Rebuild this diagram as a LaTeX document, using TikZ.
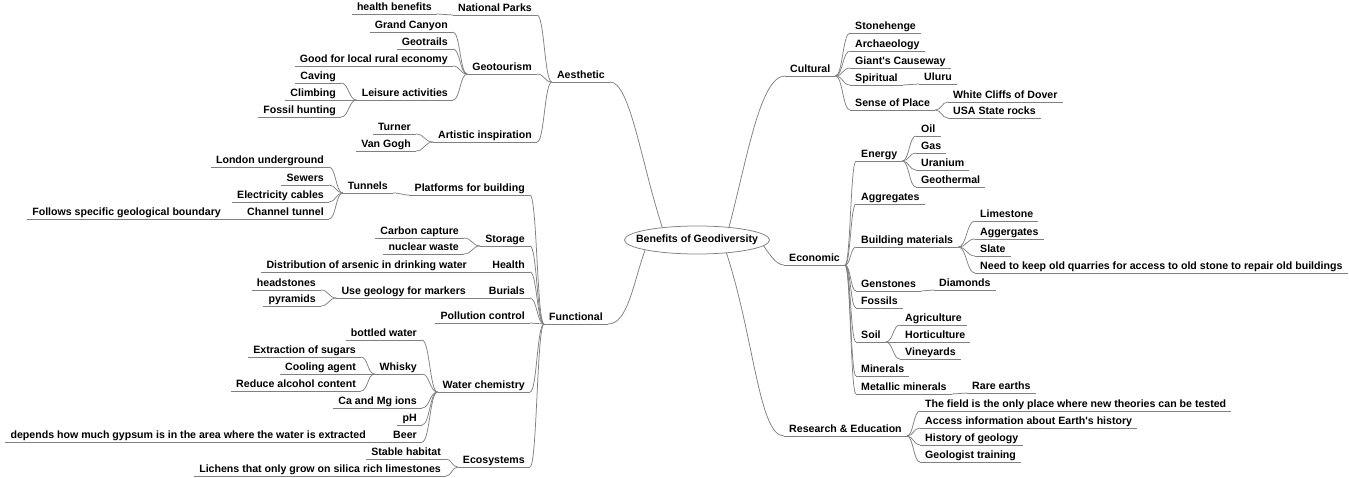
\documentclass[tikz,border=0pt]{standalone}
\usepackage{fontspec}
\setmainfont{Liberation Sans}
\usetikzlibrary{shapes.geometric,calc}
\definecolor{linegray}{RGB}{128,128,128}
\begin{document}
\begin{tikzpicture}[x=1pt, y=-1pt,
    % text of a topic, underlined later
    topic/.style={
        inner xsep=5pt,
        inner ysep=0.6pt,
        text height=8pt,
        text depth=2.4pt,
        font=\bfseries\fontsize{10.6}{12}\selectfont
    },
    lt/.style={topic, anchor=south east},
    rt/.style={topic, anchor=south west},
    % central topic (text kept out of the ellipse size)
    root/.style={
        ellipse,
        draw=linegray,
        line width=0.75pt,
        minimum width=145pt,
        minimum height=28pt,
        inner sep=0pt,
        font=\bfseries\fontsize{10.6}{12}\selectfont
    },
    branch/.style={draw=linegray, line width=0.75pt},
    % S-shaped link, flat at both ends
    link/.style={to path={let \p1=(\tikztostart), \p2=(\tikztotarget) in
        .. controls ({0.5*\x1+0.5*\x2},\y1) and ({0.5*\x1+0.5*\x2},\y2) .. (\tikztotarget)}}
]
    \useasboundingbox (0,0) rectangle (1349,478);

    \node[root] (root) at (697,240) {\makebox[0pt]{Benefits of Geodiversity}};

    % ================== Aesthetic ==================
    \node[lt] (aes) at (610,82) {Aesthetic};
    \node[lt] (natpark) at (537,15) {National Parks};
    \node[lt] (health) at (437,14) {health benefits};
    \node[lt] (geotour) at (537,74) {Geotourism};
    \node[lt] (grand) at (453,32) {Grand Canyon};
    \node[lt] (geotrails) at (453,49) {Geotrails};
    \node[lt] (goodrural) at (453,66) {Good for local rural economy};
    \node[lt] (leisure) at (453,100) {Leisure activities};
    \node[lt] (caving) at (341,83) {Caving};
    \node[lt] (climbing) at (341,100) {Climbing};
    \node[lt] (fossilhunt) at (341,117) {Fossil hunting};
    \node[lt] (artistic) at (537,142) {Artistic inspiration};
    \node[lt] (turner) at (416,134) {Turner};
    \node[lt] (vangogh) at (416,151) {Van Gogh};

    % ================== Functional ==================
    \node[lt] (func) at (608,324) {Functional};
    \node[lt] (platforms) at (530,195) {Platforms for building};
    \node[lt] (tunnels) at (393,193) {Tunnels};
    \node[lt] (london) at (329,167) {London underground};
    \node[lt] (sewers) at (329,185) {Sewers};
    \node[lt] (electric) at (329,202) {Electricity cables};
    \node[lt] (channel) at (329,219) {Channel tunnel};
    \node[lt] (follows) at (226,219) {Follows specific geological boundary};
    \node[lt] (storage) at (530,246) {Storage};
    \node[lt] (carbon) at (464,238) {Carbon capture};
    \node[lt] (nuclear) at (464,254) {nuclear waste};
    \node[lt] (healthf) at (530,272) {Health};
    \node[lt] (arsenic) at (472,272) {Distribution of arsenic in drinking water};
    \node[lt] (burials) at (530,298) {Burials};
    \node[lt] (markers) at (471,298) {Use geology for markers};
    \node[lt] (headst) at (321,290) {headstones};
    \node[lt] (pyramids) at (321,306) {pyramids};
    \node[lt] (pollution) at (530,323) {Pollution control};
    \node[lt] (waterchem) at (530,392) {Water chemistry};
    \node[lt] (bottled) at (422,340) {bottled water};
    \node[lt] (whisky) at (422,374) {Whisky};
    \node[lt] (sugars) at (361,357) {Extraction of sugars};
    \node[lt] (cooling) at (361,374) {Cooling agent};
    \node[lt] (alcohol) at (361,391) {Reduce alcohol content};
    \node[lt] (camg) at (422,408) {Ca and Mg ions};
    \node[lt] (ph) at (422,425) {pH};
    \node[lt] (beer) at (422,442) {Beer};
    \node[lt] (gypsum) at (371,442) {depends how much gypsum is in the area where the water is extracted};
    \node[lt] (ecosys) at (530,467) {Ecosystems};
    \node[lt] (stable) at (446,459) {Stable habitat};
    \node[lt] (lichens) at (446,476) {Lichens that only grow on silica rich limestones};

    % ================== Cultural ==================
    \node[rt] (cultural) at (785,76) {Cultural};
    \node[rt] (stonehenge) at (850,33) {Stonehenge};
    \node[rt] (archaeology) at (850,51) {Archaeology};
    \node[rt] (giants) at (850,68) {Giant\textquotesingle s Causeway};
    \node[rt] (spiritual) at (850,85) {Spiritual};
    \node[rt] (uluru) at (919,84) {Uluru};
    \node[rt] (senseplace) at (850,110) {Sense of Place};
    \node[rt] (dover) at (948,102) {White Cliffs of Dover};
    \node[rt] (usarocks) at (948,118) {USA State rocks};

    % ================== Economic ==================
    \node[rt] (economic) at (784,265) {Economic};
    \node[rt] (energy) at (856,161) {Energy};
    \node[rt] (oil) at (916,136) {Oil};
    \node[rt] (gas) at (916,153) {Gas};
    \node[rt] (uranium) at (916,170) {Uranium};
    \node[rt] (geothermal) at (916,187) {Geothermal};
    \node[rt] (aggregates) at (856,204) {Aggregates};
    \node[rt] (buildmat) at (856,247) {Building materials};
    \node[rt] (limestone) at (975,221) {Limestone};
    \node[rt] (aggergates) at (975,239) {Aggergates};
    \node[rt] (slate) at (975,256) {Slate};
    \node[rt] (needkeep) at (975,273) {Need to keep old quarries for access to old stone to repair old buildings};
    \node[rt] (genstones) at (856,291) {Genstones};
    \node[rt] (diamonds) at (934,290) {Diamonds};
    \node[rt] (fossils) at (856,308) {Fossils};
    \node[rt] (soil) at (856,342) {Soil};
    \node[rt] (agriculture) at (900,325) {Agriculture};
    \node[rt] (horticulture) at (900,342) {Horticulture};
    \node[rt] (vineyards) at (900,359) {Vineyards};
    \node[rt] (minerals) at (856,376) {Minerals};
    \node[rt] (metallic) at (856,394) {Metallic minerals};
    \node[rt] (rareearths) at (967,393) {Rare earths};

    % ================== Research & Education ==================
    \node[rt] (research) at (784,436) {Research \& Education};
    \node[rt] (field) at (920,411) {The field is the only place where new theories can be tested};
    \node[rt] (access) at (920,428) {Access information about Earth\textquotesingle s history};
    \node[rt] (history) at (920,445) {History of geology};
    \node[rt] (geotrain) at (920,462) {Geologist training};

    % underlines
    \foreach \n in {aes, natpark, health, geotour, grand, geotrails, goodrural, leisure,
        caving, climbing, fossilhunt, artistic, turner, vangogh,
        func, platforms, tunnels, london, sewers, electric, channel, follows,
        storage, carbon, nuclear, healthf, arsenic, burials, markers, headst, pyramids,
        pollution, waterchem, bottled, whisky, sugars, cooling, alcohol, camg, ph, beer,
        gypsum, ecosys, stable, lichens,
        cultural, stonehenge, archaeology, giants, spiritual, uluru, senseplace, dover, usarocks,
        economic, energy, oil, gas, uranium, geothermal, aggregates, buildmat, limestone,
        aggergates, slate, needkeep, genstones, diamonds, fossils, soil, agriculture,
        horticulture, vineyards, minerals, metallic, rareearths,
        research, field, access, history, geotrain}
        \draw[branch] (\n.south west) -- (\n.south east);

    % links on the left side (child -> parent)
    \foreach \cn/\pn in {natpark/aes, geotour/aes, artistic/aes, health/natpark,
        grand/geotour, geotrails/geotour, goodrural/geotour, leisure/geotour,
        caving/leisure, climbing/leisure, fossilhunt/leisure, turner/artistic, vangogh/artistic,
        platforms/func, storage/func, healthf/func, burials/func, pollution/func,
        waterchem/func, ecosys/func, tunnels/platforms,
        london/tunnels, sewers/tunnels, electric/tunnels, channel/tunnels, follows/channel,
        carbon/storage, nuclear/storage, arsenic/healthf, markers/burials,
        headst/markers, pyramids/markers, bottled/waterchem, whisky/waterchem,
        camg/waterchem, ph/waterchem, beer/waterchem, sugars/whisky, cooling/whisky,
        alcohol/whisky, gypsum/beer, stable/ecosys, lichens/ecosys}
        \draw[branch] (\cn.south east) to[link] (\pn.south west);

    % links on the right side (parent -> child)
    \foreach \pn/\cn in {cultural/stonehenge, cultural/archaeology, cultural/giants,
        cultural/spiritual, cultural/senseplace, spiritual/uluru,
        senseplace/dover, senseplace/usarocks,
        economic/energy, economic/aggregates, economic/buildmat, economic/genstones,
        economic/fossils, economic/soil, economic/minerals, economic/metallic,
        energy/oil, energy/gas, energy/uranium, energy/geothermal,
        buildmat/limestone, buildmat/aggergates, buildmat/slate, buildmat/needkeep,
        genstones/diamonds, soil/agriculture, soil/horticulture, soil/vineyards,
        metallic/rareearths, research/field, research/access, research/history,
        research/geotrain}
        \draw[branch] (\pn.south east) to[link] (\cn.south west);

    % main branches from the central topic
    \draw[branch] (root.160) to[out=108, in=0, out distance=70pt, in distance=20pt] (aes.south east);
    \draw[branch] (root.22) to[out=75, in=180, out distance=70pt, in distance=25pt] (cultural.south west);
    \draw[branch] (root.-5) to[out=-55, in=180, out distance=10pt, in distance=8pt] (economic.south west);
    \draw[branch] (root.191) to[out=-110, in=0, out distance=35pt, in distance=20pt] (func.south east);
    \draw[branch] (root.-24) to[out=-72, in=180, out distance=90pt, in distance=25pt] (research.south west);

\end{tikzpicture}
\end{document}
